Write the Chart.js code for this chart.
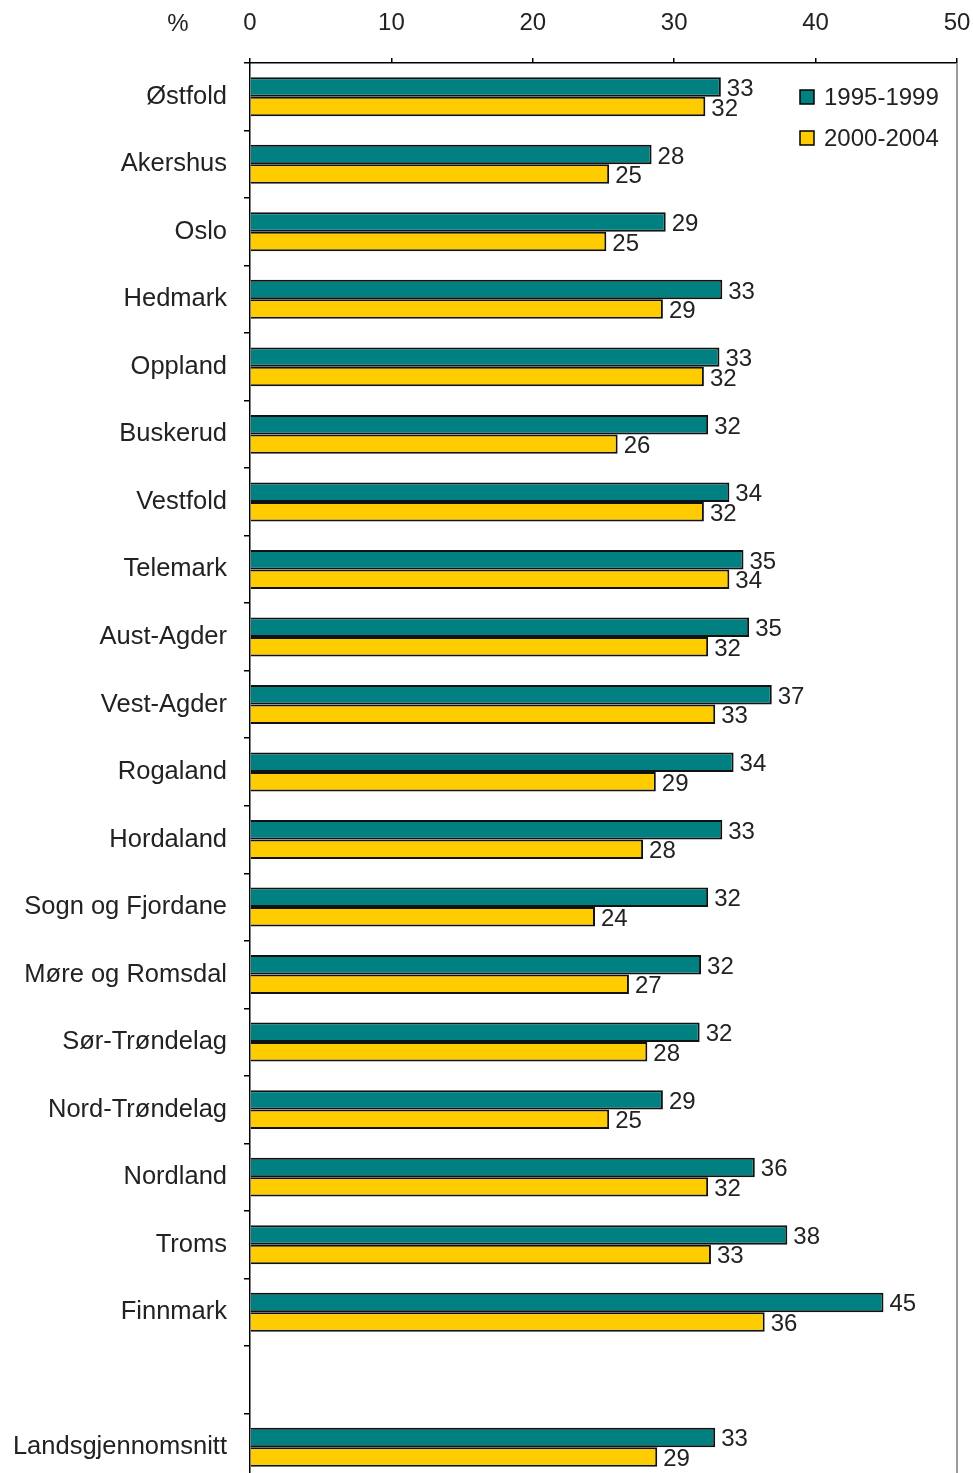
<!DOCTYPE html>
<html>
<head>
<meta charset="utf-8">
<script src="https://cdn.jsdelivr.net/npm/chart.js@4/dist/chart.umd.min.js"></script>
<style>
  html, body { margin: 0; padding: 0; background: #fff; overflow: hidden; }
  canvas { display: block; }
</style>
</head>
<body>
<canvas id="fylke-viz" width="973" height="1481"></canvas>
<script>
// Categories (empty slot before the national average, as in the original)
var fylker = [ 'Østfold', 'Akershus', 'Oslo', 'Hedmark', 'Oppland', 'Buskerud', 'Vestfold',
               'Telemark', 'Aust-Agder', 'Vest-Agder', 'Rogaland', 'Hordaland', 'Sogn og Fjordane',
               'Møre og Romsdal', 'Sør-Trøndelag', 'Nord-Trøndelag', 'Nordland', 'Troms', 'Finnmark',
               '', 'Landsgjennomsnitt' ];

var yValues_1995 = [ 33.3, 28.4, 29.4, 33.4, 33.2, 32.4, 33.9, 34.9, 35.3, 36.9, 34.2, 33.4, 32.4,
                     31.9, 31.8, 29.2, 35.7, 38.0, 44.8, null, 32.9 ];
var yValues_2000 = [ 32.2, 25.4, 25.2, 29.2, 32.1, 26.0, 32.1, 33.9, 32.4, 32.9, 28.7, 27.8, 24.4,
                     26.8, 28.1, 25.4, 32.4, 32.6, 36.4, null, 28.8 ];

var xTicks = [ 0, 10, 20, 30, 40, 50 ];
var series_labels = [ '1995-1999', '2000-2004' ];

var font_family = '"Liberation Sans", Arial, sans-serif';
var text_color = '#222';

// Value labels at the end of each bar, legend in the upper right, '%' above the axis
var extras_plugin = {
	id: 'extras',
	afterDatasetsDraw: function(chart) {
		var ctx = chart.ctx;
		ctx.save();
		ctx.font = '24px ' + font_family;
		ctx.fillStyle = text_color;
		ctx.textAlign = 'left';
		ctx.textBaseline = 'alphabetic';
		chart.data.datasets.forEach(function(ds, i) {
			var meta = chart.getDatasetMeta(i);
			meta.data.forEach(function(bar, j) {
				if (ds.data[j] == null) return;
				ctx.fillText(Math.round(ds.data[j]), bar.x + 6, bar.y + 9);
			});
		});

		// right-hand frame line
		var area = chart.chartArea;
		ctx.strokeStyle = '#9a9a9a';
		ctx.lineWidth = 2;
		ctx.beginPath();
		ctx.moveTo(area.right, area.top);
		ctx.lineTo(area.right, area.bottom);
		ctx.stroke();

		// legend
		var legend_y = [ 97, 138 ];
		chart.data.datasets.forEach(function(ds, i) {
			ctx.fillStyle = ds.backgroundColor;
			ctx.fillRect(800, legend_y[i] - 7, 14, 14);
			ctx.strokeStyle = '#000';
			ctx.lineWidth = 1.5;
			ctx.strokeRect(800, legend_y[i] - 7, 14, 14);
			ctx.fillStyle = text_color;
			ctx.textBaseline = 'middle';
			ctx.fillText(ds.label, 824, legend_y[i] + 1);
		});

		// unit label
		ctx.textAlign = 'center';
		ctx.fillText('%', 178, 24);
		ctx.restore();
	}
};

var bar_border = { top: 2, right: 2, bottom: 2, left: 0 };

var ctx = document.getElementById('fylke-viz');
var cfg = {
	type: 'bar',
	data: {
		labels: fylker,
		datasets: [
			{ label: series_labels[0], data: yValues_1995, backgroundColor: '#008080',
			  borderColor: '#111', borderWidth: bar_border, borderSkipped: false },
			{ label: series_labels[1], data: yValues_2000, backgroundColor: '#ffcc00',
			  borderColor: '#111', borderWidth: bar_border, borderSkipped: false }
		]
	},
	options: {
		indexAxis: 'y',
		responsive: false,
		animation: false,
		categoryPercentage: 0.577,
		barPercentage: 1.0,
		layout: { padding: { left: 0, right: 16, top: 0, bottom: 0 } },
		plugins: {
			legend: { display: false },
			tooltip: { enabled: false }
		},
		scales: {
			x: {
				position: 'top',
				min: 0, max: 50,
				afterBuildTicks: function(scale) { scale.ticks = xTicks.map(function(v) { return { value: v }; }); },
				// fixed axis height, and no extra room for the end labels
				afterFit: function(scale) { scale.height = 63; scale.paddingLeft = 0; scale.paddingRight = 0; },
				ticks: { padding: 20, color: text_color, font: { family: font_family, size: 24 } },
				grid: { drawOnChartArea: false, tickLength: 5, color: '#000', lineWidth: 1.5 },
				border: { color: '#000', width: 1.5 }
			},
			y: {
				afterFit: function(scale) { scale.width = 250; scale.paddingTop = 0; scale.paddingBottom = 0; },
				ticks: { padding: 17, color: text_color, font: { family: font_family, size: 25.5 } },
				grid: { drawOnChartArea: false, offset: true, tickLength: 6, color: '#000', lineWidth: 1.5 },
				border: { color: '#000', width: 1.5 }
			}
		}
	},
	plugins: [ extras_plugin ]
};
new Chart(ctx, cfg);
</script>
</body>
</html>
